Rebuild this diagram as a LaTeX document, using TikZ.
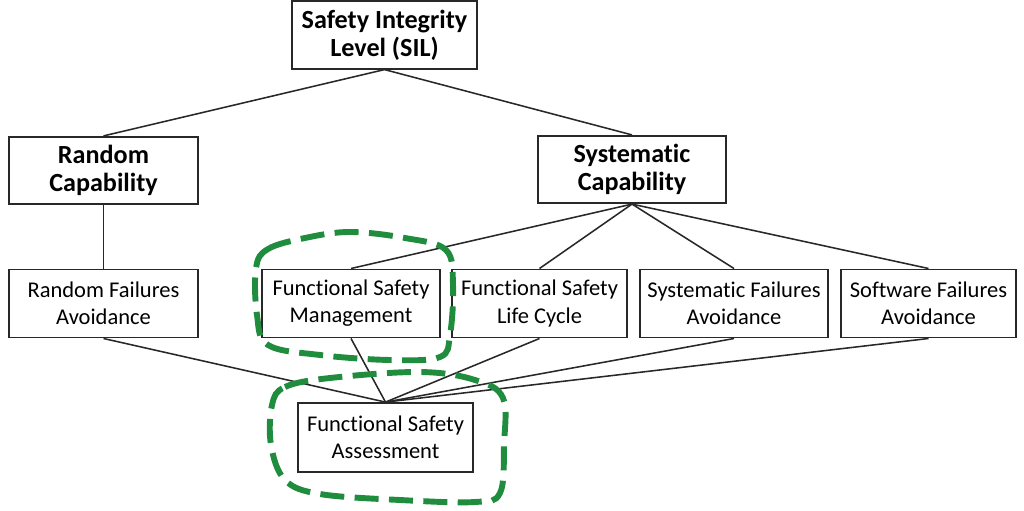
\documentclass[tikz,border=0pt]{standalone}
\usepackage{fontspec}
\setmainfont{Carlito}[Ligatures={NoCommon}]
\usepackage{tikz}
\usetikzlibrary{positioning, calc}

\definecolor{markgreen}{RGB}{32,140,62}
\definecolor{boxline}{RGB}{40,40,40}

\begin{document}
\begin{tikzpicture}[x=0.025cm, y=-0.025cm,
    topbox/.style={draw=boxline, line width=1.4pt, fill=white, align=center, inner sep=0pt,
        minimum height=1.68cm, font=\fontsize{18.6}{20}\selectfont\bfseries},
    leafbox/.style={draw=boxline, line width=1.4pt, fill=white, align=center, inner sep=0pt,
        minimum height=1.7cm, font=\fontsize{16}{19.3}\selectfont},
    link/.style={draw=boxline, line width=1.1pt},
    blob/.style={draw=markgreen, line width=4.2pt, dash pattern=on 0.6cm off 0.26cm}]
    \useasboundingbox (0,0) rectangle (1024,511);

    % Top level
    \node[topbox, minimum width=4.62cm] (sil) at (384.5, 35) {Safety Integrity\\Level (SIL)};

    % Capabilities
    \node[topbox, minimum width=4.72cm] (randcap) at (103.5, 170.5) {Random\\Capability};
    \node[topbox, minimum width=4.7cm] (syscap) at (632, 169.5) {Systematic\\Capability};

    \draw[link] (sil.south) -- (randcap.north);
    \draw[link] (sil.south) -- (syscap.north);

    % Leaves
    \node[leafbox, minimum width=4.72cm] (rfa) at (103.5, 303.5) {Random Failures\\Avoidance};
    \node[leafbox, minimum width=4.45cm] (fsm) at (351, 303.5) {Functional Safety\\Management};
    \node[leafbox, minimum width=4.38cm] (fslc) at (539.5, 303.5) {Functional Safety\\Life Cycle};
    \node[leafbox, minimum width=4.7cm] (sfa) at (734, 303.5) {Systematic Failures\\Avoidance};
    \node[leafbox, minimum width=4.38cm] (swfa) at (928.5, 303.5) {Software Failures\\Avoidance};

    \draw[link] (randcap.south) -- (rfa.north);
    \foreach \leaf in {fsm, fslc, sfa, swfa}
        \draw[link] (syscap.south) -- (\leaf.north);

    % Assessment
    \node[leafbox, minimum width=4.38cm, minimum height=1.72cm] (fsa) at (385.5, 437.5) {Functional Safety\\Assessment};

    \foreach \leaf in {rfa, fsm, fslc, sfa, swfa}
        \draw[link] (\leaf.south) -- (fsa.north);

    % Green marks
    \draw[blob] plot[smooth cycle, tension=0.6] coordinates {
        (256,268) (268,249) (305,238) (350,232) (405,238) (446,250)
        (453,285) (450,335) (440,357) (390,360) (320,355) (268,345) (257,315)};
    \draw[blob] plot[smooth cycle, tension=0.6] coordinates {
        (272,405) (285,387) (330,378) (420,372) (475,380) (503,398)
        (504,445) (500,493) (475,502) (400,500) (320,494) (285,480) (271,445)};
\end{tikzpicture}
\end{document}
